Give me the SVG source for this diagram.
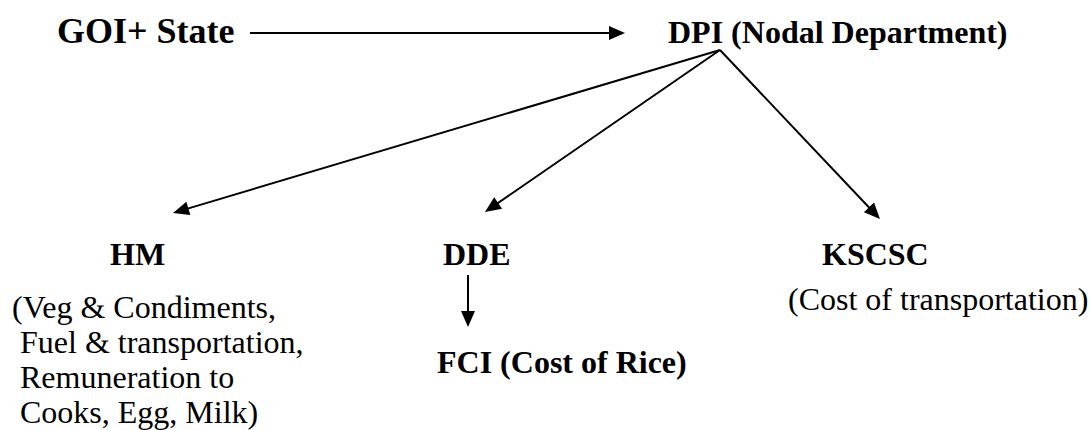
<svg xmlns="http://www.w3.org/2000/svg" width="1089" height="430" viewBox="0 0 1089 430">
<style>
.t{font-family:"Liberation Serif","Times New Roman",serif;fill:#000}
.b{font-weight:bold}
.c{stroke:#000;stroke-width:2;fill:none}
</style>
<defs>
<marker id="ah" markerUnits="userSpaceOnUse" markerWidth="16" markerHeight="14" refX="6" refY="7" orient="auto" overflow="visible">
<path d="M0,0 L16,7 L0,14 z" fill="#000"/>
</marker>
</defs>
<rect width="1089" height="430" fill="#fff"/>
<g id="connectors">
<line class="c" x1="250" y1="33" x2="615" y2="33" marker-end="url(#ah)"/>
<line class="c" x1="720" y1="50" x2="182.6" y2="210.1" marker-end="url(#ah)"/>
<line class="c" x1="720" y1="50" x2="493.2" y2="206.3" marker-end="url(#ah)"/>
<line class="c" x1="720" y1="50" x2="873.1" y2="211.7" marker-end="url(#ah)"/>
<line class="c" x1="468" y1="275" x2="468" y2="317" marker-end="url(#ah)"/>
</g>
<g id="goi">
<text class="t b" x="57" y="43" font-size="36">GOI+ State</text>
</g>
<g id="dpi">
<text class="t b" x="668" y="43" font-size="32">DPI (Nodal Department)</text>
</g>
<g id="hm">
<text class="t b" x="110" y="265" font-size="32">HM</text>
<text class="t" font-size="32"><tspan x="12" y="318">(Veg &amp; Condiments,</tspan><tspan x="20" y="353">Fuel &amp; transportation,</tspan><tspan x="20" y="388">Remuneration to</tspan><tspan x="20" y="423">Cooks, Egg, Milk)</tspan></text>
</g>
<g id="dde">
<text class="t b" x="443" y="265" font-size="32">DDE</text>
</g>
<g id="fci">
<text class="t b" x="437" y="373" font-size="32">FCI (Cost of Rice)</text>
</g>
<g id="kscsc">
<text class="t b" x="822" y="265" font-size="32">KSCSC</text>
<text class="t" x="788" y="310" font-size="32">(Cost of transportation)</text>
</g>
</svg>
